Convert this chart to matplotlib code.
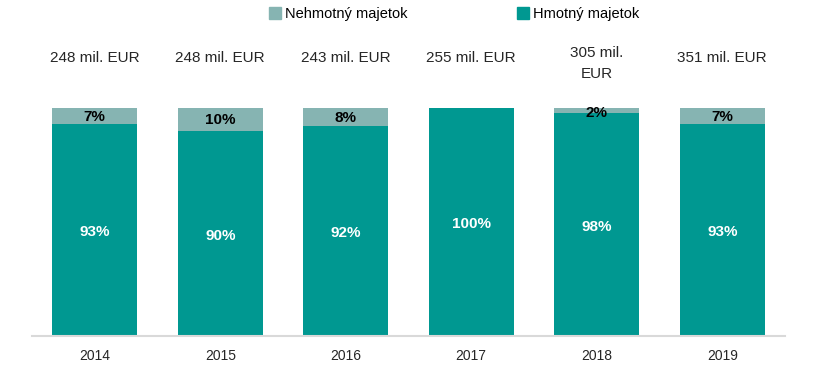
import matplotlib
matplotlib.use("Agg")
import matplotlib.pyplot as plt
from matplotlib.patches import Patch

plt.rcParams['font.family'] = ['Liberation Sans', 'DejaVu Sans']

years = ["2014", "2015", "2016", "2017", "2018", "2019"]
hmotny = [93, 90, 92, 100, 98, 93]
nehmotny = [7, 10, 8, 0, 2, 7]
totals = ["248 mil. EUR", "248 mil. EUR", "243 mil. EUR", "255 mil. EUR", "305 mil.\nEUR", "351 mil. EUR"]

c_h = "#009891"
c_n = "#86B4B2"

fig = plt.figure(figsize=(8.15, 3.78), dpi=100)
ax = fig.add_axes([32/815, 42/378, 753/815, 228/378])
x = list(range(len(years)))
w = 0.68
ax.bar(x, hmotny, width=w, color=c_h, zorder=2)
ax.bar(x, nehmotny, width=w, bottom=hmotny, color=c_n, zorder=2)
ax.set_xlim(-0.5, len(years) - 0.5)
ax.set_ylim(0, 100)
for s in ["top", "right", "left"]:
    ax.spines[s].set_visible(False)
ax.spines["bottom"].set_color("#d9d9d9")
ax.spines["bottom"].set_linewidth(1.5)
ax.set_yticks([])
ax.set_xticks(x)
ax.set_xticklabels(years, fontsize=10, color="#262626")
ax.tick_params(axis="x", length=0, pad=9)

for i in x:
    ax.text(i, hmotny[i] / 2 - 1, f"{hmotny[i]}%", ha="center", va="center",
            color="white", fontsize=11, fontweight="bold")
    if nehmotny[i] > 0:
        yl = hmotny[i] + nehmotny[i] / 2 - 0.4 if nehmotny[i] >= 5 else hmotny[i]
        ax.text(i, yl, f"{nehmotny[i]}%", ha="center", va="center",
                color="black", fontsize=11, fontweight="bold")
    if "\n" in totals[i]:
        ax.text(i, 119.5, totals[i], ha="center", va="center", fontsize=11,
                color="#262626", clip_on=False, linespacing=1.65)
    else:
        ax.text(i, 122, totals[i], ha="center", va="center", fontsize=11,
                color="#262626", clip_on=False)

leg_items = [("Nehmotný majetok", c_n, 269), ("Hmotný majetok", c_h, 517)]
for label, col, xpx in leg_items:
    fig.legend(handles=[Patch(color=col, label=label)], loc="center left",
               bbox_to_anchor=(xpx / 815, 1 - 14 / 378), frameon=False,
               fontsize=10.5, handlelength=0.8, handleheight=0.8,
               handletextpad=0.3, borderaxespad=0, borderpad=0)

fig.savefig("out.png", dpi=100)
